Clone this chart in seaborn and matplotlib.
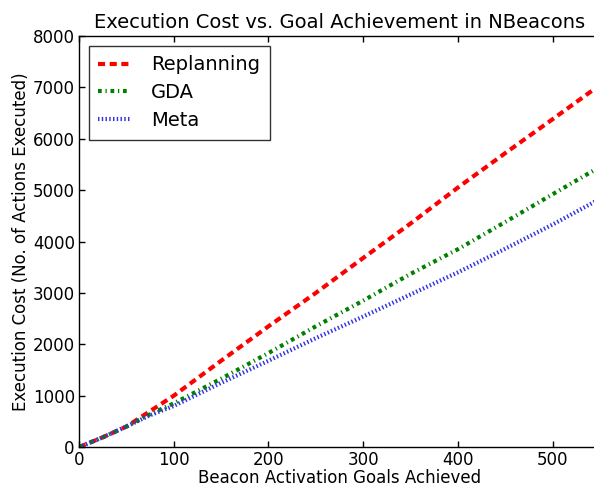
import matplotlib
matplotlib.use("Agg")
import matplotlib.pyplot as plt
import seaborn as sns
import pandas as pd

goals = [0, 25, 50, 75, 100, 150, 200, 250, 300, 350, 400, 450, 500, 545]
replanning = [0, 190, 400, 700, 1000, 1680, 2350, 3000, 3680, 4350, 5050, 5720, 6380, 6980]
gda = [0, 190, 400, 640, 850, 1330, 1830, 2350, 2850, 3370, 3850, 4380, 4920, 5400]
meta = [0, 190, 400, 620, 800, 1250, 1680, 2120, 2540, 2970, 3400, 3860, 4330, 4780]

sns.set_style("white", {
    "axes.edgecolor": "black",
    "xtick.direction": "in",
    "ytick.direction": "in",
    "xtick.top": True,
    "ytick.right": True,
    "xtick.bottom": True,
    "ytick.left": True,
    "text.color": "black",
    "axes.labelcolor": "black",
    "xtick.color": "black",
    "ytick.color": "black",
})
plt.rcParams["font.family"] = ["DejaVu Sans"]
plt.rcParams["xtick.major.size"] = 4
plt.rcParams["ytick.major.size"] = 4

fig = plt.figure(figsize=(5.94, 4.86), dpi=100)
ax = fig.add_axes([0.133, 0.080, 0.877, 0.846])

series = [
    ("Replanning", replanning, "#ff0000", (0, (1.7, 1.1)), 3.0),
    ("GDA", gda, "#008000", (0, (0.9, 0.9, 0.3, 0.9)), 3.0),
    ("Meta", meta, "#3535e0", (0, (0.35, 0.55)), 3.0),
]
for name, vals, color, ls, lw in series:
    df = pd.DataFrame({"x": goals, "y": vals})
    sns.lineplot(data=df, x="x", y="y", ax=ax, color=color, linestyle=ls,
                 linewidth=lw, label=name)

ax.set_xlim(0, 550)
ax.set_ylim(0, 8000)
ax.set_xticks([0, 100, 200, 300, 400, 500])
ax.set_yticks(range(0, 8001, 1000))
ax.tick_params(labelsize=12, width=1, pad=3, colors="black")
for s in ax.spines.values():
    s.set_linewidth(1)
    s.set_color("black")

ax.set_title("Execution Cost vs. Goal Achievement in NBeacons", fontsize=14, color="black")
ax.set_xlabel("Beacon Activation Goals Achieved", fontsize=12, labelpad=0)
ax.set_ylabel("Execution Cost (No. of Actions Executed)", fontsize=12, labelpad=2)

leg = ax.legend(loc="upper left", fontsize=14, handlelength=1.6, handletextpad=1.1,
                borderpad=0.5, labelspacing=0.45, frameon=True,
                fancybox=False, borderaxespad=0.5)
leg.get_frame().set_edgecolor("black")
leg.get_frame().set_linewidth(1)

fig.savefig("out.png", dpi=100)
